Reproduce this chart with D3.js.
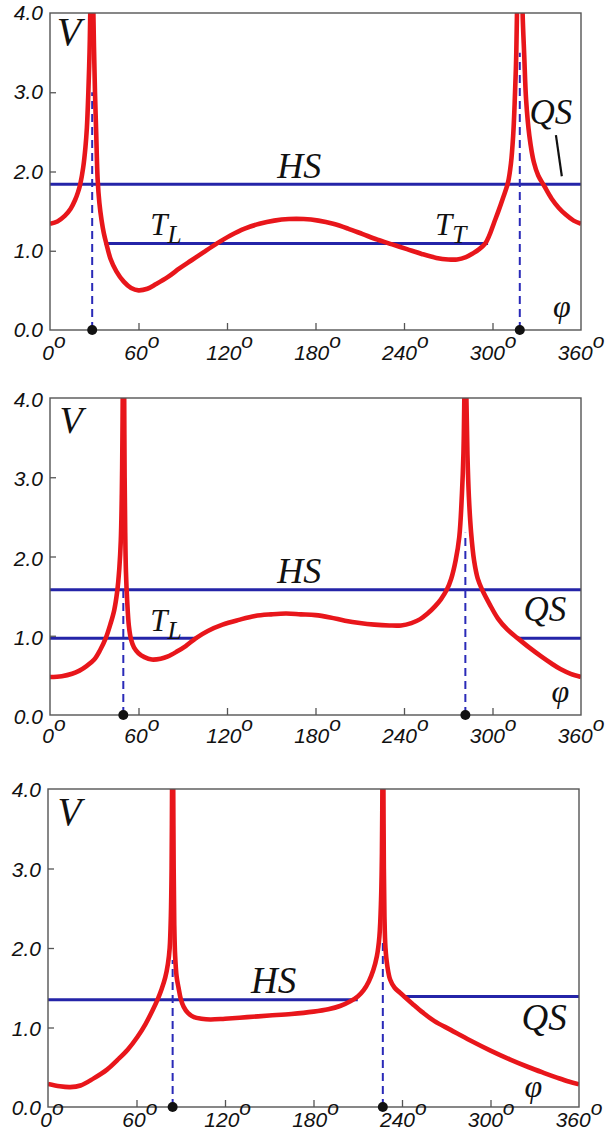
<!DOCTYPE html>
<html>
<head>
<meta charset="utf-8">
<script src="https://cdn.jsdelivr.net/npm/d3@7"></script>
<style>
  body { margin: 0; background: #fff; }
  svg { display: block; }
  .num { font-family: "Liberation Sans", Arial, sans-serif; font-style: italic; font-size: 21px; fill: #111; }
  .sym { font-family: "Liberation Serif", "Times New Roman", serif; font-style: italic; fill: #111; }
</style>
</head>
<body>
<svg id="chart" width="615" height="1140"></svg>
<script>
// axis ticks
const phiTicks = [0, 60, 120, 180, 240, 300, 360];
const vTicks = [0, 1, 2, 3, 4];

// ---- panel 1 ----
const p1BranchA = [[0,1.34],[5,1.37],[10,1.44],[14,1.53],[17,1.64],[19,1.74],[20.5,1.84],[22.5,2.05],
  [24,2.3],[25,2.55],[26,3.0],[26.8,3.5],[27.3,4.0],[27.8,4.8]];
const p1BranchB = [[29,4.8],[29.4,4.0],[30.5,3.0],[31.3,2.5],[32.3,1.9],[33.5,1.6],[35,1.38],[36.5,1.22],
  [38.2,1.09],[41,0.9],[45,0.74],[50,0.61],[55,0.53],[60,0.5],[66,0.52],[72,0.58],[80,0.67],[88,0.78],
  [96,0.88],[104,0.98],[113,1.09],[122,1.19],[132,1.28],[142,1.34],[152,1.38],[162,1.4],[172,1.4],
  [182,1.38],[192,1.34],[202,1.28],[212,1.21],[222,1.14],[232,1.08],[242,1.02],[252,0.96],[262,0.91],
  [270,0.89],[276,0.89],[282,0.92],[287,0.97],[291,1.02],[295,1.09],[298,1.2],[301,1.35],[304,1.5],
  [307,1.66],[310.5,1.86],[312.5,2.1],[314,2.45],[315,2.85],[316,3.4],[316.6,4.0],[317.2,4.8]];
const p1BranchC = [[319.8,4.8],[320.4,4.0],[321.5,3.47],[322.8,2.9],[325,2.45],[328,2.12],[331,1.95],
  [335,1.82],[340,1.66],[345,1.54],[350,1.45],[355,1.38],[360,1.34]];
const p1Poles = [28.6, 318.5];
const p1DashTop = [3.0, 3.5];
const p1Levels = [[1.84, 0, 360], [1.09, 37, 297]];

// ---- panel 2 ----
const p2BranchA = [[0,0.48],[8,0.49],[15,0.52],[20,0.56],[25,0.62],[30,0.7],[34,0.82],[37.8,0.97],
  [41,1.15],[43.5,1.32],[45.5,1.55],[47,1.85],[48,2.2],[48.7,2.8],[49.1,3.5],[49.3,4.0],[49.5,4.8]];
const p2BranchB = [[50.1,4.8],[50.3,4.0],[50.6,3.0],[51,2.3],[51.5,1.8],[52.3,1.45],[53.5,1.12],[55,0.95],
  [57,0.85],[60,0.78],[64,0.73],[69,0.7],[75,0.71],[80,0.74],[86,0.8],[92,0.87],[99,0.97],[107,1.06],
  [117,1.14],[128,1.2],[139,1.25],[150,1.27],[160,1.28],[170,1.27],[180,1.26],[190,1.23],[200,1.19],
  [210,1.16],[220,1.14],[230,1.13],[238,1.13],[245,1.16],[251,1.21],[256,1.28],[261,1.37],[265,1.46],
  [269,1.58],[272,1.72],[275,1.95],[277.5,2.25],[279.3,2.8],[280.3,3.3],[280.9,4.0],[281.3,4.8]];
const p2BranchC = [[281.9,4.8],[282.3,4.0],[283,3.3],[284,2.75],[285.5,2.3],[287.5,1.95],[290,1.72],
  [293,1.58],[298,1.4],[303.6,1.22],[310,1.08],[317,0.97],[325,0.85],[333,0.74],[340,0.65],[346,0.58],
  [353,0.52],[360,0.48]];
const p2Poles = [49.7, 281.6];
const p2DashTop = [1.6, 2.3];
const p2Levels = [[1.58, 0, 360], [0.97, 0, 100], [0.97, 316, 360]];

// ---- panel 3 ----
const p3BranchA = [[0,0.29],[8,0.26],[15,0.25],[22,0.27],[31,0.36],[40,0.47],[47,0.59],[54,0.72],
  [60.6,0.88],[66,1.04],[71,1.22],[74.5,1.36],[77,1.48],[79.5,1.63],[81.3,1.8],[82.5,2.0],[83.3,2.4],
  [83.8,3.0],[84.1,4.0],[84.3,4.8]];
const p3BranchB = [[84.7,4.8],[84.9,4.0],[85.2,3.0],[85.6,2.3],[86.2,1.9],[87.2,1.64],[88.5,1.5],[90,1.36],
  [92,1.26],[95,1.18],[99,1.13],[104,1.11],[110,1.1],[120,1.11],[135,1.13],[150,1.15],[165,1.17],
  [180,1.2],[190,1.23],[198,1.27],[205,1.33],[210,1.39],[214,1.47],[217.5,1.58],[220.5,1.72],[223,1.9],
  [224.7,2.15],[225.8,2.6],[226.4,3.2],[226.7,4.0],[226.9,4.8]];
const p3BranchC = [[227.2,4.8],[227.4,4.0],[227.7,3.0],[228.1,2.4],[228.8,2.0],[230,1.78],[232,1.6],
  [235,1.5],[238.5,1.44],[241.5,1.39],[247,1.3],[254,1.19],[262,1.08],[273,0.97],[286,0.84],[300,0.71],
  [313,0.6],[326,0.5],[336,0.43],[345,0.37],[353,0.32],[360,0.285]];
const p3Poles = [84.5, 227];
const p3DashTop = [1.85, 2.1];
const p3Levels = [[1.35, 0, 210], [1.39, 241, 360]];

// frame boxes and text anchors (data units) for each panel
const panels = [
  { box: [50, 13, 581, 330], branches: [p1BranchA, p1BranchB, p1BranchC], poles: p1Poles, dashTop: p1DashTop,
    levels: p1Levels, xLabDy: 30, yLabDy: 7,
    notes: [
      { t: "V", x: 4.5, y: 3.6, size: 40 },
      { t: "HS", x: 169, y: 1.92, size: 36, anchor: "middle" },
      { t: "T", sub: "L", x: 68, y: 1.2, size: 31 },
      { t: "T", sub: "T", x: 261, y: 1.2, size: 31 },
      { t: "QS", x: 325, y: 2.6, size: 35 },
      { t: "\u03c6", x: 341, y: 0.17, size: 32 }
    ],
    leader: [[343, 2.46], [347, 1.94]] },
  { box: [50, 398, 581, 715], branches: [p2BranchA, p2BranchB, p2BranchC], poles: p2Poles, dashTop: p2DashTop,
    levels: p2Levels, xLabDy: 28, yLabDy: 9,
    notes: [
      { t: "V", x: 6.5, y: 3.56, size: 38 },
      { t: "HS", x: 169, y: 1.66, size: 36, anchor: "middle" },
      { t: "T", sub: "L", x: 68, y: 1.06, size: 31 },
      { t: "QS", x: 321, y: 1.18, size: 35 },
      { t: "\u03c6", x: 340, y: 0.17, size: 32 }
    ] },
  { box: [48, 789, 579, 1107], branches: [p3BranchA, p3BranchB, p3BranchC], poles: p3Poles, dashTop: p3DashTop,
    levels: p3Levels, xLabDy: 20, yLabDy: 8,
    notes: [
      { t: "V", x: 6.5, y: 3.55, size: 39 },
      { t: "HS", x: 153, y: 1.44, size: 37, anchor: "middle" },
      { t: "QS", x: 321, y: 0.97, size: 37 },
      { t: "\u03c6", x: 323, y: 0.12, size: 32 }
    ] }
];

const svg = d3.select("#chart");

panels.forEach(function (p, i) {
  const [x0, y0, x1, y1] = p.box;
  const x = d3.scaleLinear().domain([0, 360]).range([x0, x1]);
  const y = d3.scaleLinear().domain([0, 4]).range([y1, y0]);
  const g = svg.append("g");

  g.append("clipPath").attr("id", "clip" + i)
    .append("rect").attr("x", x0).attr("y", y0).attr("width", x1 - x0).attr("height", y1 - y0);
  const plot = g.append("g").attr("clip-path", "url(#clip" + i + ")");

  // blue horizontal levels
  plot.selectAll(".lvl").data(p.levels).enter().append("line")
    .attr("x1", d => x(d[1])).attr("x2", d => x(d[2]))
    .attr("y1", d => y(d[0])).attr("y2", d => y(d[0]))
    .attr("stroke", "#2424a8").attr("stroke-width", 3);

  // dashed verticals at the poles
  plot.selectAll(".pole").data(p.poles).enter().append("line")
    .attr("x1", d => x(d)).attr("x2", d => x(d))
    .attr("y1", y(0)).attr("y2", (d, j) => y(p.dashTop[j]))
    .attr("stroke", "#2a2ab8").attr("stroke-width", 2).attr("stroke-dasharray", "8,5");

  // red curve
  const line = d3.line().x(d => x(d[0])).y(d => y(d[1])).curve(d3.curveCatmullRom.alpha(0.5));
  plot.selectAll(".br").data(p.branches).enter().append("path")
    .attr("d", line).attr("fill", "none")
    .attr("stroke", "#e8161b").attr("stroke-width", 4.6).attr("stroke-linejoin", "round");

  if (p.leader) {
    plot.append("line")
      .attr("x1", x(p.leader[0][0])).attr("y1", y(p.leader[0][1]))
      .attr("x2", x(p.leader[1][0])).attr("y2", y(p.leader[1][1]))
      .attr("stroke", "#111").attr("stroke-width", 2.2);
  }

  // frame
  g.append("rect").attr("x", x0).attr("y", y0).attr("width", x1 - x0).attr("height", y1 - y0)
    .attr("fill", "none").attr("stroke", "#555").attr("stroke-width", 1.4);

  // inward ticks
  g.append("g").attr("transform", "translate(0," + y1 + ")")
    .call(d3.axisBottom(x).tickValues(phiTicks.slice(1, -1)).tickSize(-7).tickFormat(""))
    .call(a => a.select(".domain").remove())
    .selectAll("line").attr("stroke", "#555").attr("stroke-width", 1.3);
  g.append("g").attr("transform", "translate(" + x0 + ",0)")
    .call(d3.axisLeft(y).tickValues(vTicks.slice(1, -1)).tickSize(-6).tickFormat(""))
    .call(a => a.select(".domain").remove())
    .selectAll("line").attr("stroke", "#555").attr("stroke-width", 1.3);

  // pole dots
  g.selectAll(".dot").data(p.poles).enter().append("circle")
    .attr("cx", d => x(d)).attr("cy", y(0)).attr("r", 5).attr("fill", "#111");

  // tick labels
  g.selectAll(".yl").data(vTicks).enter().append("text").attr("class", "num")
    .attr("x", x0 - 7).attr("y", d => y(d) + p.yLabDy).attr("text-anchor", "end")
    .text(d => d.toFixed(1));
  const xl = g.selectAll(".xl").data(phiTicks).enter().append("text").attr("class", "num")
    .attr("x", d => x(d) + 4 * (1 - d / 360)).attr("y", y1 + p.xLabDy).attr("text-anchor", "middle");
  xl.append("tspan").text(d => d);
  xl.append("tspan").attr("dy", -12).text("o");

  // symbol labels
  p.notes.forEach(function (n) {
    const t = g.append("text").attr("class", "sym")
      .attr("x", x(n.x)).attr("y", y(n.y)).attr("font-size", n.size)
      .attr("text-anchor", n.anchor || "start").text(n.t);
    if (n.sub) {
      t.append("tspan").attr("dy", 8).attr("font-size", n.size * 0.82).text(n.sub);
    }
  });
});
</script>
</body>
</html>
